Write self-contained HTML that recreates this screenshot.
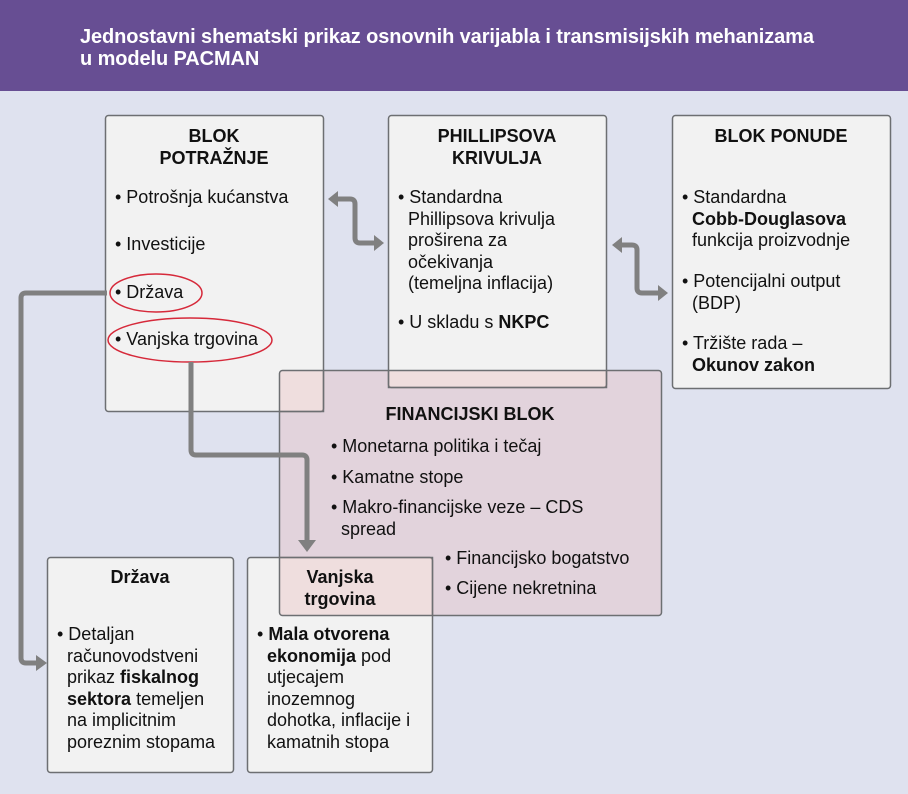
<!DOCTYPE html>
<html><head><meta charset="utf-8"><style>
body{margin:0;width:908px;height:794px;overflow:hidden;background:#dfe2ef;font-family:"Liberation Sans",sans-serif;color:#111;}
.t{position:absolute;font-size:18px;line-height:21.5px;white-space:nowrap;}
.c{text-align:center;font-weight:bold;}
</style></head><body>
<svg width="908" height="794" style="position:absolute;left:0;top:0">
<rect x="0" y="0" width="908" height="91" fill="#674e93"/>
<g fill="#f2f2f2" stroke="#6d6f72" stroke-width="1.5">
<rect x="105.5" y="115.5" width="218" height="296" rx="3"/>
<rect x="388.5" y="115.5" width="218" height="272" rx="3"/>
<rect x="672.5" y="115.5" width="218" height="273" rx="3"/>
<rect x="47.5" y="557.5" width="186" height="215" rx="3"/>
<rect x="247.5" y="557.5" width="185" height="215" rx="3"/>
</g>
<rect x="279.5" y="370.5" width="382" height="245" rx="3" fill="rgba(232,178,178,0.316)" stroke="#6d6f72" stroke-width="1.5"/>
<g fill="none" stroke="#6d6f72" stroke-width="1.5">
<path d="M279.5 411.5 H323.5 V370.5"/>
<path d="M388.5 370.5 V387.5 H606.5 V370.5"/>
<path d="M279.5 557.5 H432.5 V615.5"/>
</g>
<g fill="none" stroke="#d6293a" stroke-width="1.5">
<ellipse cx="156" cy="293" rx="46" ry="19"/>
<ellipse cx="190" cy="340" rx="82" ry="22"/>
</g>
<g fill="none" stroke="#808080" stroke-width="5" stroke-linejoin="round">
<path d="M107 293 H26 Q21 293 21 298 V658 Q21 663 26 663 H38"/>
<path d="M191 362 V450 Q191 455 196 455 H302 Q307 455 307 460 V542"/>
<path d="M336 199 H350 Q355 199 355 204 V238 Q355 243 360 243 H374"/>
<path d="M620 245 H632 Q637 245 637 250 V288 Q637 293 642 293 H660"/>
</g>
<g fill="#808080">
<polygon points="36,655 47,663 36,671"/>
<polygon points="298,540 316,540 307,552"/>
<polygon points="328,199 338,191 338,207"/>
<polygon points="384,243 374,235 374,251"/>
<polygon points="612,245 622,237 622,253"/>
<polygon points="668,293 658,285 658,301"/>
</g>
</svg>
<div class="t" style="left:80px;top:26px;color:#fff;font-weight:bold;font-size:20px;line-height:22px;letter-spacing:-0.1px;">Jednostavni shematski prikaz osnovnih varijabla i transmisijskih mehanizama<br>u modelu PACMAN</div>

<div class="t c" style="left:105px;width:218px;top:126px;">BLOK<br>POTRAŽNJE</div>
<div class="t" style="left:115px;top:187px;">• Potrošnja kućanstva</div>
<div class="t" style="left:115px;top:234px;">• Investicije</div>
<div class="t" style="left:115px;top:282px;">• Država</div>
<div class="t" style="left:115px;top:329px;">• Vanjska trgovina</div>

<div class="t c" style="left:388px;width:218px;top:126px;">PHILLIPSOVA<br>KRIVULJA</div>
<div class="t" style="left:398px;top:187px;">• Standardna<br>&nbsp;&nbsp;Phillipsova krivulja<br>&nbsp;&nbsp;proširena za<br>&nbsp;&nbsp;očekivanja<br>&nbsp;&nbsp;(temeljna inflacija)</div>
<div class="t" style="left:398px;top:312px;">• U skladu s <b>NKPC</b></div>

<div class="t c" style="left:672px;width:218px;top:126px;">BLOK PONUDE</div>
<div class="t" style="left:682px;top:187px;">• Standardna<br>&nbsp;&nbsp;<b>Cobb-Douglasova</b><br>&nbsp;&nbsp;funkcija proizvodnje</div>
<div class="t" style="left:682px;top:271px;">• Potencijalni output<br>&nbsp;&nbsp;(BDP)</div>
<div class="t" style="left:682px;top:333px;">• Tržište rada –<br>&nbsp;&nbsp;<b>Okunov zakon</b></div>

<div class="t c" style="left:279px;width:382px;top:404px;">FINANCIJSKI BLOK</div>
<div class="t" style="left:331px;top:436px;">• Monetarna politika i tečaj</div>
<div class="t" style="left:331px;top:467px;">• Kamatne stope</div>
<div class="t" style="left:331px;top:497px;">• Makro-financijske veze – CDS<br>&nbsp;&nbsp;spread</div>
<div class="t" style="left:445px;top:548px;">• Financijsko bogatstvo</div>
<div class="t" style="left:445px;top:578px;">• Cijene nekretnina</div>

<div class="t c" style="left:47px;width:186px;top:567px;">Država</div>
<div class="t" style="left:57px;top:624px;">• Detaljan<br>&nbsp;&nbsp;računovodstveni<br>&nbsp;&nbsp;prikaz <b>fiskalnog</b><br>&nbsp;&nbsp;<b>sektora</b> temeljen<br>&nbsp;&nbsp;na implicitnim<br>&nbsp;&nbsp;poreznim stopama</div>

<div class="t c" style="left:280px;width:120px;top:567px;">Vanjska<br>trgovina</div>
<div class="t" style="left:257px;top:624px;">• <b>Mala otvorena</b><br>&nbsp;&nbsp;<b>ekonomija</b> pod<br>&nbsp;&nbsp;utjecajem<br>&nbsp;&nbsp;inozemnog<br>&nbsp;&nbsp;dohotka, inflacije i<br>&nbsp;&nbsp;kamatnih stopa</div>
</body></html>
